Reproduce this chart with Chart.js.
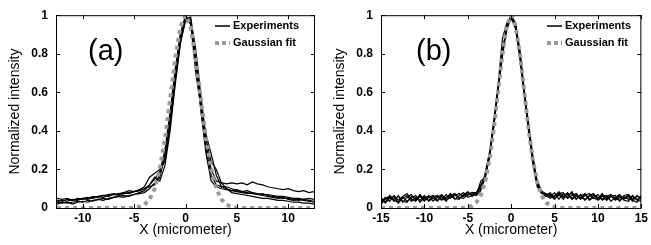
<!DOCTYPE html>
<html lang="en">
<head>
<meta charset="UTF-8">
<title>Normalized intensity profiles</title>
<script src="https://cdn.jsdelivr.net/npm/chart.js"></script>
<style>
  body { margin: 0; background: #fff; }
  .panel { position: absolute; top: 0; height: 245px; }
  #panelA { left: 0; width: 325px; }
  #panelB { left: 325px; width: 326px; }
</style>
</head>
<body>
<div class="panel" id="panelA"><canvas id="chartA"></canvas></div>
<div class="panel" id="panelB"><canvas id="chartB"></canvas></div>
<script>
// panel (a)
const xA = [-12.5,-12,-11.5,-11,-10.5,-10,-9.5,-9,-8.5,-8,-7.5,-7,-6.5,-6,-5.5,-5,-4.5,-4,-3.5,-3,-2.5,-2,-1.5,-1,-0.5,0,
            0.5,1,1.5,2,2.5,3,3.5,4,4.5,5,5.5,6,6.5,7,7.5,8,8.5,9,9.5,10,10.5,11,11.5,12,12.5];
const gaussA = [0,0,0,0,0,0,0,0,0,0,0,0,0,0,0,
                0.002,0.006,0.017,0.044,0.10,0.203,0.36,0.563,0.775,0.94,1,0.94,0.775,0.563,0.36,0.203,0.10,0.044,0.017,0.006,0.002,
                0,0,0,0,0,0,0,0,0,0,0,0,0,0,0];
const expA1 = [0.03,0.04,0.035,0.045,0.04,0.05,0.045,0.055,0.06,0.055,0.065,0.07,0.065,0.075,0.08,0.085,
               0.09,0.1,0.12,0.15,0.19,0.3,0.5,0.72,0.9,0.99,0.97,0.8,0.55,0.33,0.2,0.14,0.13,0.125,0.13,0.125,0.13,0.12,0.135,0.125,0.12,0.11,0.105,0.1,0.095,0.1,0.09,0.085,0.09,0.08,0.085];
const expA2 = [0.02,0.03,0.025,0.03,0.035,0.03,0.04,0.035,0.045,0.05,0.045,0.055,0.06,0.065,0.06,0.07,
               0.075,0.08,0.1,0.13,0.17,0.26,0.45,0.68,0.88,0.98,0.98,0.78,0.5,0.28,0.14,0.11,0.1,0.095,0.09,0.085,0.08,0.075,0.08,0.07,0.065,0.06,0.055,0.05,0.055,0.045,0.04,0.045,0.04,0.035,0.03];
const expA3 = [0.04,0.035,0.045,0.04,0.05,0.045,0.05,0.06,0.055,0.065,0.07,0.075,0.07,0.08,0.09,0.085,
               0.095,0.11,0.16,0.18,0.2,0.24,0.42,0.66,0.86,0.97,0.96,0.7,0.52,0.38,0.28,0.17,0.11,0.1,0.09,0.095,0.085,0.08,0.075,0.07,0.075,0.065,0.06,0.055,0.05,0.05,0.045,0.04,0.045,0.04,0.035];
const expA4 = [0.03,0.025,0.03,0.02,0.03,0.035,0.03,0.04,0.045,0.04,0.05,0.055,0.06,0.055,0.065,0.07,
               0.08,0.09,0.12,0.16,0.14,0.22,0.4,0.64,0.85,0.98,0.99,0.82,0.58,0.36,0.24,0.2,0.13,0.1,0.08,0.075,0.07,0.065,0.06,0.055,0.05,0.05,0.045,0.04,0.04,0.035,0.03,0.03,0.025,0.025,0.02];
const expA5 = [0.05,0.045,0.05,0.04,0.045,0.05,0.055,0.05,0.06,0.065,0.06,0.07,0.075,0.08,0.075,0.085,
               0.09,0.1,0.11,0.12,0.16,0.28,0.48,0.7,0.9,1.0,0.95,0.76,0.53,0.3,0.17,0.12,0.11,0.11,0.1,0.09,0.085,0.09,0.08,0.075,0.07,0.07,0.065,0.06,0.06,0.055,0.05,0.05,0.045,0.05,0.045];
const xTicksA = [-10, -5, 0, 5, 10];

// panel (b)
const xB = [-15,-14.5,-14,-13.5,-13,-12.5,-12,-11.5,-11,-10.5,-10,-9.5,-9,-8.5,-8,-7.5,-7,-6.5,-6,-5.5,-5,-4.5,
            -4,-3.5,-3,-2.5,-2,-1.5,-1,-0.5,0,0.5,1,1.5,2,2.5,3,3.5,4,
            4.5,5,5.5,6,6.5,7,7.5,8,8.5,9,9.5,10,10.5,11,11.5,12,12.5,13,13.5,14,14.5,15];
const gaussB = [0,0,0,0,0,0,0,0,0,0,0,0,0,0,0,0,0,0,0,0,
                0.004,0.011,0.029,0.066,0.135,0.25,0.41,0.61,0.80,0.946,1,0.946,0.80,0.61,0.41,0.25,0.135,0.066,0.029,0.011,0.004,
                0,0,0,0,0,0,0,0,0,0,0,0,0,0,0,0,0,0,0,0];
const expB1 = [0.03,0.055,0.035,0.065,0.04,0.06,0.075,0.045,0.035,0.065,0.05,0.04,0.06,0.065,0.045,0.07,0.05,0.065,0.075,0.06,0.08,0.07,
               0.08,0.11,0.17,0.28,0.43,0.62,0.8,0.94,1.0,0.95,0.8,0.6,0.42,0.25,0.12,0.085,0.075,
               0.07,0.06,0.085,0.055,0.075,0.05,0.07,0.045,0.065,0.075,0.05,0.045,0.065,0.04,0.06,0.045,0.065,0.04,0.035,0.06,0.045,0.05];
const expB2 = [0.025,0.05,0.06,0.035,0.065,0.03,0.055,0.07,0.04,0.06,0.035,0.065,0.05,0.035,0.065,0.05,0.075,0.045,0.065,0.08,0.055,0.065,
               0.07,0.14,0.16,0.26,0.42,0.62,0.82,0.93,0.99,0.94,0.79,0.61,0.44,0.27,0.13,0.08,0.07,
               0.06,0.08,0.045,0.075,0.055,0.085,0.045,0.07,0.04,0.065,0.075,0.04,0.06,0.065,0.035,0.055,0.07,0.045,0.06,0.035,0.065,0.045];
const expB3 = [0.055,0.025,0.05,0.06,0.025,0.055,0.035,0.05,0.065,0.03,0.055,0.06,0.035,0.055,0.07,0.04,0.055,0.07,0.05,0.065,0.085,0.06,
               0.075,0.1,0.15,0.27,0.44,0.64,0.88,0.96,0.99,0.93,0.78,0.59,0.4,0.23,0.11,0.075,0.07,
               0.065,0.045,0.075,0.08,0.05,0.065,0.075,0.05,0.075,0.045,0.065,0.05,0.075,0.045,0.065,0.04,0.055,0.05,0.065,0.04,0.03,0.065];
const expB4 = [0.02,0.045,0.055,0.04,0.03,0.05,0.065,0.035,0.055,0.04,0.065,0.035,0.05,0.06,0.04,0.055,0.065,0.05,0.045,0.07,0.065,0.08,
               0.065,0.09,0.18,0.29,0.45,0.63,0.81,0.95,1.0,0.96,0.82,0.62,0.43,0.26,0.14,0.09,0.065,
               0.05,0.065,0.075,0.045,0.07,0.075,0.045,0.065,0.07,0.04,0.055,0.07,0.04,0.055,0.06,0.065,0.035,0.06,0.045,0.065,0.04,0.035];
const expB5 = [0.05,0.03,0.065,0.045,0.06,0.035,0.03,0.06,0.045,0.07,0.04,0.055,0.065,0.04,0.06,0.035,0.065,0.075,0.055,0.05,0.07,0.08,
               0.08,0.12,0.16,0.27,0.43,0.61,0.79,0.93,0.98,0.95,0.81,0.6,0.41,0.24,0.12,0.08,0.06,
               0.08,0.05,0.065,0.06,0.08,0.045,0.06,0.055,0.045,0.06,0.07,0.055,0.045,0.06,0.07,0.05,0.04,0.065,0.07,0.045,0.06,0.055];
const xTicksB = [-15, -10, -5, 0, 5, 10, 15];

const yTicks = [0, 0.2, 0.4, 0.6, 0.8, 1];
const legendLabels = ['Experiments', 'Gaussian fit'];

const FONT = '"Liberation Sans", Arial, Helvetica, sans-serif';
const GRAY = '#9a9a9a';

// frame, inward tick marks, panel tag and legend
const decorPlugin = {
    id: 'decor',
    afterDraw(chart, args, opts) {
        const ctx = chart.ctx;
        const a = chart.chartArea;
        const xs = chart.scales.x, ys = chart.scales.y;
        ctx.save();
        ctx.strokeStyle = '#000';
        ctx.lineWidth = 1;
        ctx.strokeRect(a.left + 0.5, a.top + 0.5, a.right - a.left - 1, a.bottom - a.top);
        ctx.beginPath();
        xs.ticks.forEach(t => {
            const px = Math.round(xs.getPixelForValue(t.value)) + 0.5;
            ctx.moveTo(px, a.bottom); ctx.lineTo(px, a.bottom - 4);
            ctx.moveTo(px, a.top); ctx.lineTo(px, a.top + 4);
        });
        ys.ticks.forEach(t => {
            const py = Math.round(ys.getPixelForValue(t.value)) + 0.5;
            ctx.moveTo(a.left, py); ctx.lineTo(a.left + 4, py);
            ctx.moveTo(a.right, py); ctx.lineTo(a.right - 4, py);
        });
        ctx.stroke();

        ctx.fillStyle = '#000';
        ctx.font = '29px ' + FONT;
        ctx.textBaseline = 'middle';
        ctx.fillText(opts.tag, opts.tagX, 52);

        const lx = opts.legendX;
        ctx.beginPath();
        ctx.lineWidth = 1.5;
        ctx.moveTo(lx, 26); ctx.lineTo(lx + 15, 26);
        ctx.stroke();
        ctx.beginPath();
        ctx.strokeStyle = GRAY;
        ctx.lineWidth = 4;
        ctx.setLineDash([4, 3]);
        ctx.moveTo(lx, 43); ctx.lineTo(lx + 15, 43);
        ctx.stroke();
        ctx.setLineDash([]);
        ctx.font = 'bold 11px ' + FONT;
        ctx.fillText(legendLabels[0], lx + 18, 26);
        ctx.fillText(legendLabels[1], lx + 18, 43);
        ctx.restore();
    }
};

function makePanel(id, xs, gauss, exps, xTicks, xMin, xMax, padRight, tag, tagX, legendX) {
    const datasets = [{
        data: xs.map((x, i) => ({x: x, y: gauss[i]})),
        borderColor: GRAY,
        borderWidth: 4,
        borderDash: [4, 4],
        borderCapStyle: 'butt'
    }];
    exps.forEach(e => datasets.push({
        data: xs.map((x, i) => ({x: x, y: e[i]})),
        borderColor: '#000',
        borderWidth: 1.2
    }));

    return new Chart(document.getElementById(id), {
        type: 'line',
        data: { datasets: datasets },
        plugins: [decorPlugin],
        options: {
            responsive: true,
            maintainAspectRatio: false,
            animation: false,
            layout: { padding: { top: 12, right: padRight, left: 0, bottom: 0 } },
            elements: { point: { radius: 0 }, line: { tension: 0 } },
            plugins: {
                legend: { display: false },
                tooltip: { enabled: false },
                decor: { tag: tag, tagX: tagX, legendX: legendX }
            },
            scales: {
                x: {
                    type: 'linear',
                    min: xMin,
                    max: xMax,
                    afterBuildTicks: s => { s.ticks = xTicks.map(v => ({value: v})); },
                    afterFit: s => { s.height = 37; },
                    grid: { display: false, drawTicks: false },
                    border: { display: false },
                    ticks: {
                        color: '#000',
                        padding: 3,
                        maxRotation: 0,
                        autoSkip: false,
                        font: { family: FONT, size: 12, weight: 'bold' }
                    },
                    title: {
                        display: true,
                        text: 'X (micrometer)',
                        color: '#000',
                        padding: { top: 0, bottom: 6 },
                        font: { family: FONT, size: 14 }
                    }
                },
                y: {
                    min: 0,
                    max: 1,
                    afterBuildTicks: s => { s.ticks = yTicks.map(v => ({value: v})); },
                    afterFit: s => { s.width = 56; },
                    grid: { display: false, drawTicks: false },
                    border: { display: false },
                    ticks: {
                        color: '#000',
                        padding: 8,
                        callback: v => String(v),
                        font: { family: FONT, size: 12, weight: 'bold' }
                    },
                    title: {
                        display: true,
                        text: 'Normalized intensity',
                        color: '#000',
                        padding: { top: 7, bottom: 0 },
                        font: { family: FONT, size: 14 }
                    }
                }
            }
        }
    });
}

makePanel('chartA', xA, gaussA, [expA1, expA2, expA3, expA4, expA5], xTicksA, -12.6, 12.6, 10, '(a)', 88, 215);
makePanel('chartB', xB, gaussB, [expB1, expB2, expB3, expB4, expB5], xTicksB, -15, 15, 4, '(b)', 91, 222);
</script>
</body>
</html>
